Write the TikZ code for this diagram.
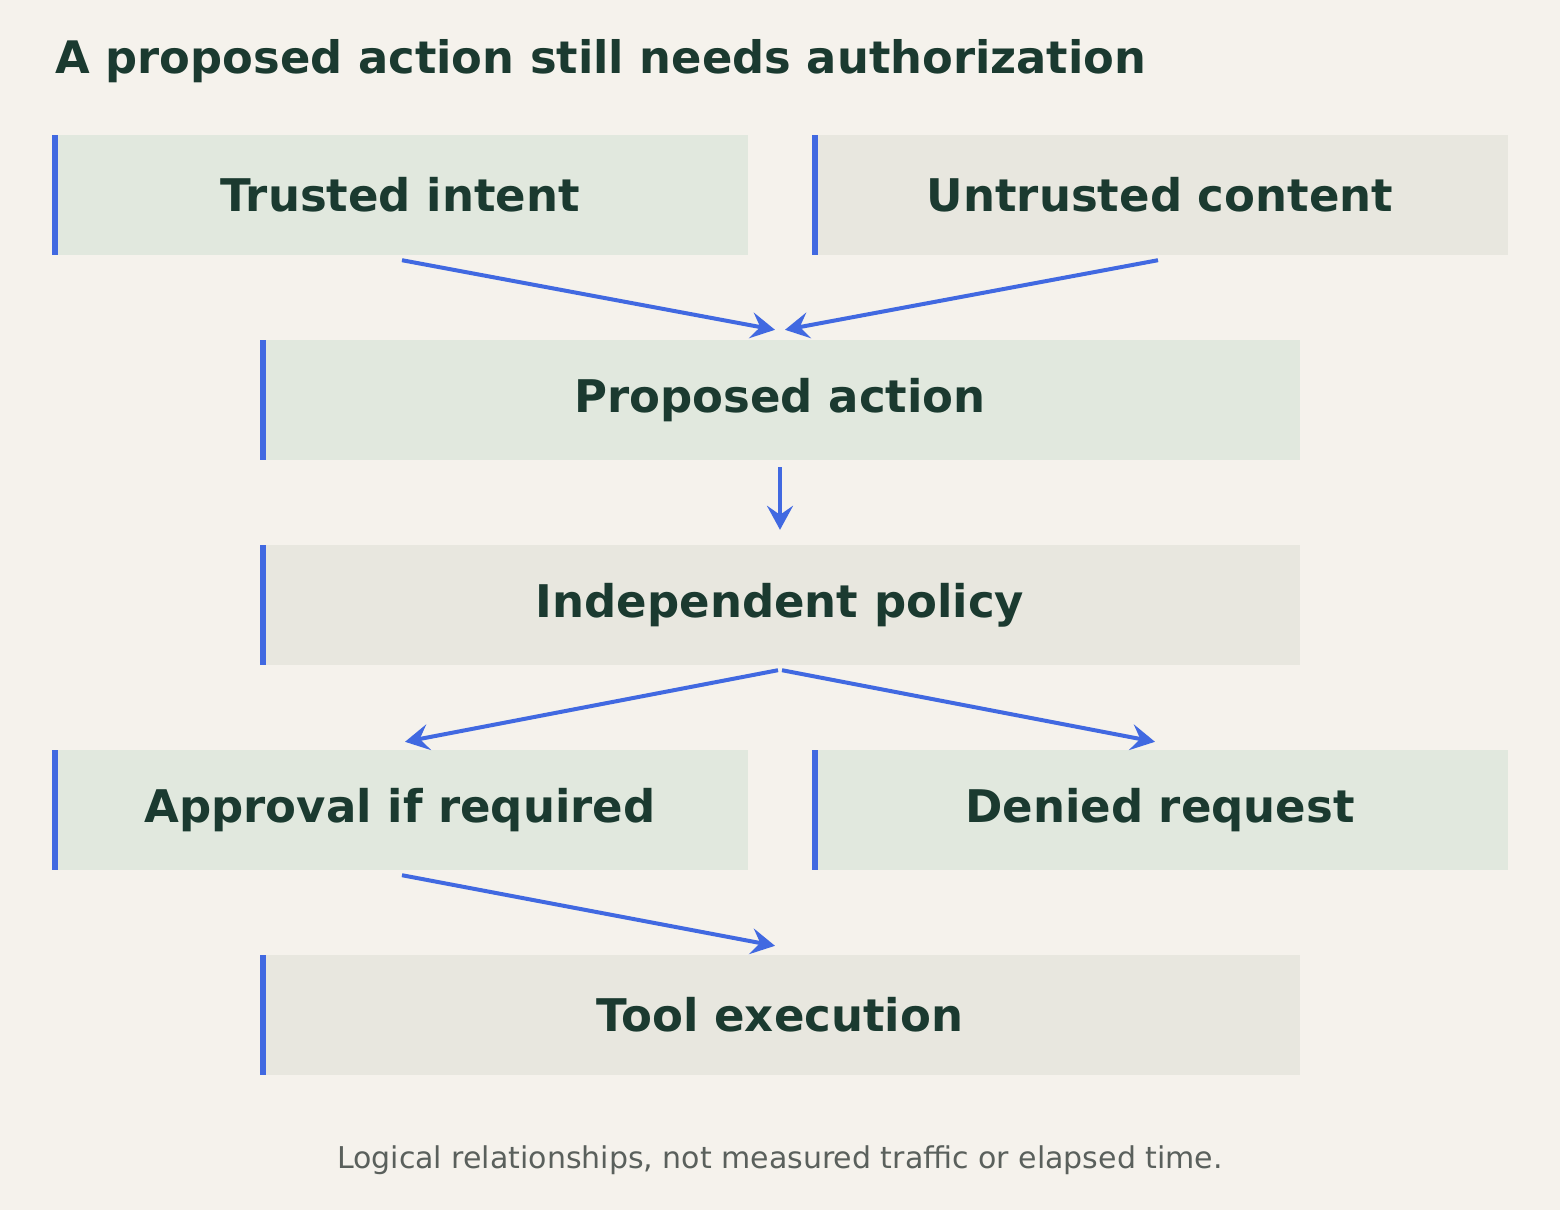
\documentclass[tikz,border=0pt]{standalone}
\usepackage{fontspec}
\setmainfont{DejaVu Sans}
\usetikzlibrary{arrows.meta}
\definecolor{bg}{HTML}{F5F2EC}
\definecolor{gbox}{HTML}{E1E8DE}
\definecolor{sbox}{HTML}{E8E7DF}
\definecolor{acc}{HTML}{4169E1}
\definecolor{ink}{HTML}{1B3A30}
\definecolor{foot}{HTML}{5A605C}
\begin{document}
\begin{tikzpicture}[x=1pt,y=-1pt,
  box/.style={minimum height=120pt,inner sep=0pt,text=ink,font=\fontsize{45}{50}\selectfont\bfseries,
    path picture={\fill[acc] (path picture bounding box.north west) rectangle ([xshift=6pt]path picture bounding box.south west);}},
  half/.style={box,minimum width=696pt},
  wide/.style={box,minimum width=1040pt},
  arr/.style={draw=acc,line width=4pt,-{Stealth[length=24pt,width=26pt,inset=9pt]}}]
\useasboundingbox[fill=bg] (0,0) rectangle (1560,1210);
\node[anchor=base west,text=ink,font=\fontsize{44.8}{50}\selectfont\bfseries] (title) at (52,73) {A proposed action still needs authorization};
\node[half,fill=gbox] (ti) at (400,195) {Trusted intent};
\node[half,fill=sbox] (uc) at (1160,195) {Untrusted content};
\node[wide,fill=gbox] (pa) at (780,400) {Proposed action};
\node[wide,fill=sbox] (ip) at (780,605) {Independent policy};
\node[half,fill=gbox] (ap) at (400,810) {Approval if required};
\node[half,fill=gbox] (dr) at (1160,810) {Denied request};
\node[wide,fill=sbox] (te) at (780,1015) {Tool execution};
\node[text=foot,font=\fontsize{30}{34}\selectfont] (ft) at (780,1160) {Logical relationships, not measured traffic or elapsed time.};
\draw[arr] ([xshift=2pt,yshift=-5pt]ti.south) -- ([xshift=-5pt,yshift=10pt]pa.north);
\draw[arr] ([xshift=-2pt,yshift=-5pt]uc.south) -- ([xshift=5pt,yshift=10pt]pa.north);
\draw[arr] ([yshift=-7pt]pa.south) -- ([yshift=15pt]ip.north);
\draw[arr] ([xshift=-2pt,yshift=-5pt]ip.south) -- ([xshift=5pt,yshift=8pt]ap.north);
\draw[arr] ([xshift=2pt,yshift=-5pt]ip.south) -- ([xshift=-5pt,yshift=8pt]dr.north);
\draw[arr] ([xshift=2pt,yshift=-5pt]ap.south) -- ([xshift=-5pt,yshift=9pt]te.north);
\end{tikzpicture}
\end{document}
